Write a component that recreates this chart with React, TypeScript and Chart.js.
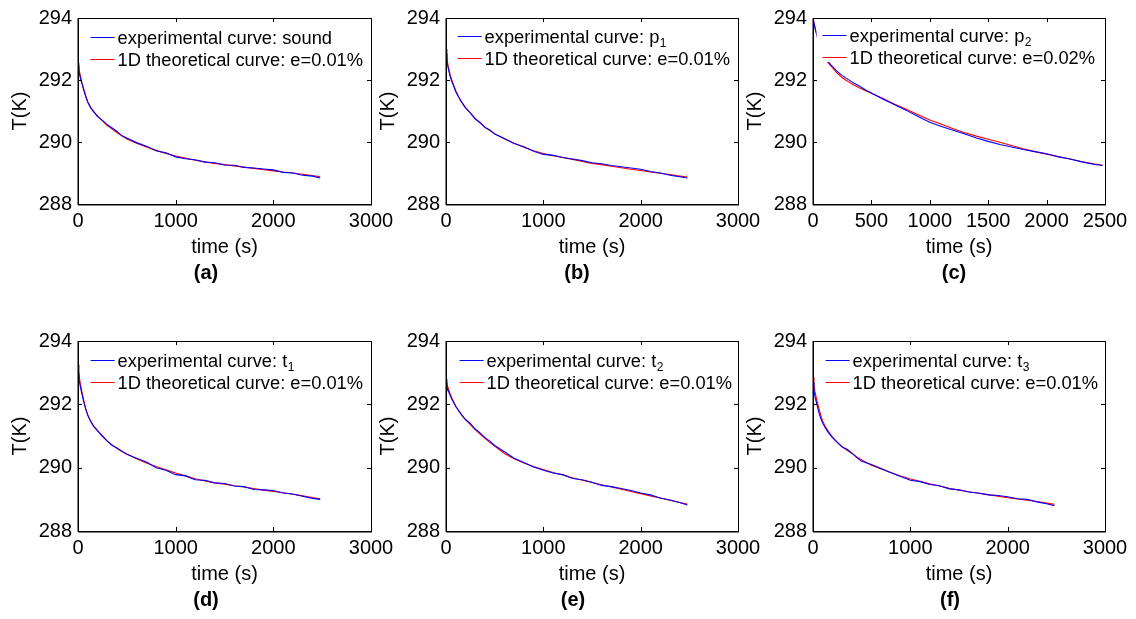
import React, { useEffect, useRef } from "react";
import { Chart, registerables } from "chart.js";

Chart.register(...registerables);

// ---------------- data ----------------
const times = [0, 10, 20, 40, 60, 80, 100, 130, 160, 200, 250, 300, 350, 400, 450, 500, 600, 700, 800, 900, 1000, 1100, 1200, 1300, 1400, 1500, 1600, 1700, 1800, 1900, 2000, 2100, 2200, 2300, 2400, 2480];

const expA = [292.45, 292.28, 292.12, 291.88, 291.66, 291.46, 291.28, 291.1, 290.98, 290.82, 290.7, 290.56, 290.45, 290.34, 290.2, 290.13, 289.98, 289.86, 289.72, 289.65, 289.52, 289.46, 289.43, 289.35, 289.33, 289.26, 289.25, 289.18, 289.16, 289.13, 289.1, 289.02, 289.0, 288.93, 288.9, 288.84];
const theoA = [292.55, 292.35, 292.2, 291.92, 291.7, 291.48, 291.3, 291.12, 290.98, 290.84, 290.68, 290.53, 290.42, 290.3, 290.2, 290.1, 289.96, 289.84, 289.73, 289.63, 289.55, 289.48, 289.41, 289.36, 289.31, 289.27, 289.23, 289.19, 289.15, 289.11, 289.07, 289.03, 289.0, 288.96, 288.92, 288.88];

const expB = [292.85, 292.6, 292.42, 292.14, 291.95, 291.8, 291.62, 291.45, 291.28, 291.1, 290.94, 290.74, 290.63, 290.47, 290.39, 290.26, 290.11, 289.95, 289.85, 289.7, 289.6, 289.57, 289.5, 289.45, 289.4, 289.33, 289.3, 289.24, 289.2, 289.16, 289.12, 289.05, 289.0, 288.93, 288.88, 288.84];
const theoB = [293.0, 292.7, 292.48, 292.2, 292.0, 291.82, 291.66, 291.45, 291.3, 291.12, 290.93, 290.76, 290.61, 290.48, 290.37, 290.27, 290.1, 289.96, 289.83, 289.72, 289.63, 289.56, 289.5, 289.44, 289.37, 289.31, 289.27, 289.22, 289.17, 289.12, 289.08, 289.03, 288.99, 288.95, 288.9, 288.87];

const expC = [294.0, 293.8, 293.63, 293.33, 293.1, 292.9, 292.74, 292.6, 292.46, 292.3, 292.14, 292.02, 291.9, 291.8, 291.68, 291.58, 291.38, 291.2, 291.02, 290.82, 290.64, 290.5, 290.38, 290.26, 290.13, 290.02, 289.92, 289.84, 289.76, 289.69, 289.62, 289.52, 289.45, 289.36, 289.28, 289.24];
const theoC = [294.0, 293.82, 293.65, 293.35, 293.1, 292.9, 292.73, 292.55, 292.42, 292.25, 292.07, 291.95, 291.84, 291.74, 291.65, 291.57, 291.4, 291.22, 291.06, 290.88, 290.71, 290.57, 290.43, 290.3, 290.19, 290.09, 289.99, 289.89, 289.78, 289.69, 289.61, 289.53, 289.45, 289.37, 289.3, 289.25];

const expD = [293.0, 292.8, 292.62, 292.32, 292.06, 291.84, 291.66, 291.47, 291.3, 291.16, 291.0, 290.84, 290.7, 290.62, 290.52, 290.42, 290.3, 290.18, 290.0, 289.92, 289.78, 289.74, 289.62, 289.6, 289.52, 289.5, 289.42, 289.4, 289.31, 289.3, 289.28, 289.2, 289.17, 289.1, 289.03, 289.0];
const theoD = [293.25, 292.95, 292.72, 292.4, 292.12, 291.85, 291.65, 291.45, 291.32, 291.18, 290.99, 290.84, 290.72, 290.6, 290.51, 290.43, 290.28, 290.15, 290.04, 289.93, 289.83, 289.74, 289.65, 289.58, 289.52, 289.48, 289.43, 289.39, 289.34, 289.29, 289.25, 289.21, 289.16, 289.11, 289.06, 289.02];

const expE = [292.7, 292.55, 292.45, 292.3, 292.16, 292.05, 291.93, 291.8, 291.68, 291.52, 291.4, 291.22, 291.1, 290.95, 290.84, 290.7, 290.5, 290.3, 290.16, 290.02, 289.92, 289.83, 289.78, 289.66, 289.62, 289.54, 289.44, 289.4, 289.34, 289.28, 289.2, 289.14, 289.04, 288.98, 288.9, 288.82];
const theoE = [292.8, 292.65, 292.53, 292.35, 292.2, 292.07, 291.95, 291.8, 291.66, 291.52, 291.36, 291.2, 291.06, 290.93, 290.8, 290.68, 290.45, 290.28, 290.15, 290.04, 289.94, 289.85, 289.77, 289.68, 289.6, 289.53, 289.46, 289.39, 289.32, 289.25, 289.18, 289.11, 289.04, 288.97, 288.9, 288.85];

const expF = [292.7, 292.45, 292.25, 292.0, 291.75, 291.55, 291.4, 291.24, 291.1, 290.95, 290.8, 290.65, 290.58, 290.46, 290.32, 290.2, 290.1, 289.97, 289.84, 289.72, 289.6, 289.56, 289.47, 289.43, 289.33, 289.3, 289.23, 289.2, 289.14, 289.12, 289.08, 289.02, 289.0, 288.92, 288.86, 288.8];
const theoF = [292.85, 292.6, 292.4, 292.12, 291.88, 291.66, 291.47, 291.28, 291.14, 290.97, 290.8, 290.66, 290.55, 290.45, 290.34, 290.24, 290.08, 289.96, 289.85, 289.74, 289.64, 289.57, 289.49, 289.42, 289.35, 289.29, 289.24, 289.19, 289.15, 289.1, 289.05, 289.01, 288.97, 288.93, 288.88, 288.84];

const yTickValues = [288, 290, 292, 294];
const xTicks3000 = [0, 1000, 2000, 3000];
const xTicks2500 = [0, 500, 1000, 1500, 2000, 2500];

const expNames = ["sound", "p", "p", "t", "t", "t"];
const expSubs = ["", "1", "2", "1", "2", "3"];
const eValues = ["0.01%", "0.01%", "0.02%", "0.01%", "0.01%", "0.01%"];
const panelLetters = ["(a)", "(b)", "(c)", "(d)", "(e)", "(f)"];
const xTitle = "time (s)";
const yTitle = "T(K)";

const expSeries = [expA, expB, expC, expD, expE, expF];
const theoSeries = [theoA, theoB, theoC, theoD, theoE, theoF];
const xTickSets = [xTicks3000, xTicks3000, xTicks2500, xTicks3000, xTicks3000, xTicks3000];

// ---------------- layout ----------------
const W = 1136;
const H = 619;
const FONT = "'Liberation Sans', Arial, Helvetica, sans-serif";
const Y_AXIS_W = 70;
const X_AXIS_H = 55;
const EXP_COLOR = "#0000ff";
const THEO_COLOR = "#ff0000";

const boxes = [
  { left: 78, right: 371, top: 14, bottom: 204, legendTop: 19, legendRight: 8, letterX: 206 },
  { left: 446, right: 738, top: 14, bottom: 204, legendTop: 18, legendRight: 8, letterX: 577 },
  { left: 813, right: 1105, top: 14, bottom: 204, legendTop: 16.5, legendRight: 10, letterX: 954 },
  { left: 78, right: 371, top: 341, bottom: 531, legendTop: 19, legendRight: 8, letterX: 206 },
  { left: 446, right: 738, top: 341, bottom: 531, legendTop: 19, legendRight: 6, letterX: 573 },
  { left: 813, right: 1105, top: 341, bottom: 531, legendTop: 19, legendRight: 7, letterX: 950 },
];

function makePlugin(i: number) {
  const box = boxes[i];
  return {
    id: "matlabAxes" + i,
    afterDatasetsDraw(chart: any) {
      const ctx: CanvasRenderingContext2D = chart.ctx;
      const ca = chart.chartArea;
      const xs = chart.scales.x;
      const ys = chart.scales.y;
      ctx.save();

      // ---- legend ----
      const mainFont = `18.3px ${FONT}`;
      const subFont = `12px ${FONT}`;
      const row1Main = "experimental curve: " + expNames[i];
      const row1Sub = expSubs[i];
      const row2Main = "1D theoretical curve: e=" + eValues[i];
      ctx.font = mainFont;
      const w1a = ctx.measureText(row1Main).width;
      ctx.font = subFont;
      const w1b = row1Sub ? ctx.measureText(row1Sub).width : 0;
      ctx.font = mainFont;
      const w2 = ctx.measureText(row2Main).width;
      const tw = Math.max(w1a + w1b, w2);
      const textX = ca.right - box.legendRight - tw;
      const lx1 = textX - 3;
      const lx0 = lx1 - 24;
      const y1 = Math.round(ca.top + box.legendTop);
      const y2 = y1 + 22;
      ctx.fillStyle = "#ffffff";
      ctx.fillRect(lx0 - 6, ca.top + 1, ca.right - 1 - (lx0 - 6), y2 + 5 - ca.top - 1);

      ctx.fillStyle = EXP_COLOR;
      ctx.fillRect(lx0, y1, lx1 - lx0, 1);
      ctx.fillStyle = THEO_COLOR;
      ctx.fillRect(lx0, y2, lx1 - lx0, 1);

      ctx.fillStyle = "#000000";
      ctx.textAlign = "left";
      ctx.textBaseline = "alphabetic";
      const base1 = y1 + 7;
      const base2 = y2 + 7;
      ctx.font = mainFont;
      ctx.fillText(row1Main, textX, base1);
      if (row1Sub) {
        ctx.font = subFont;
        ctx.fillText(row1Sub, textX + w1a + 0.5, base1 + 4);
      }
      ctx.font = mainFont;
      ctx.fillText(row2Main, textX, base2);

      // ---- axes box and inward ticks ----
      ctx.fillStyle = "#000000";
      for (const v of xTickSets[i]) {
        const px = Math.round(xs.getPixelForValue(v));
        ctx.fillRect(px, ca.bottom - 4, 1, 4);
        ctx.fillRect(px, ca.top, 1, 4);
      }
      for (const v of yTickValues) {
        const py = Math.round(ys.getPixelForValue(v));
        ctx.fillRect(ca.left, py, 4, 1);
        ctx.fillRect(ca.right - 4, py, 4, 1);
      }
      ctx.fillRect(ca.left, ca.top, ca.right - ca.left + 1, 1);
      ctx.fillRect(ca.right, ca.top, 1, ca.bottom - ca.top + 1);
      ctx.fillRect(ca.left - 0.5, ca.top, 1.5, ca.bottom - ca.top + 1);
      ctx.fillRect(ca.left, ca.bottom, ca.right - ca.left + 1, 1.5);

      // ---- panel letter ----
      ctx.font = `bold 20px ${FONT}`;
      ctx.textAlign = "center";
      ctx.textBaseline = "middle";
      ctx.fillText(panelLetters[i], box.letterX, ca.bottom + 69.5);
      ctx.restore();
    },
  };
}

function buildConfig(i: number): any {
  const box = boxes[i];
  const xt = xTickSets[i];
  const tickFont = { family: FONT, size: 20 };
  return {
    type: "line",
    data: {
      datasets: [
        {
          label: "experimental curve: " + expNames[i] + expSubs[i],
          data: times.map((t, k) => ({ x: t, y: expSeries[i][k] })),
          borderColor: EXP_COLOR,
          borderWidth: 1.1,
          pointRadius: 0,
          tension: 0,
          fill: false,
        },
        {
          label: "1D theoretical curve: e=" + eValues[i],
          data: times.map((t, k) => ({ x: t, y: theoSeries[i][k] })),
          borderColor: THEO_COLOR,
          borderWidth: 1.1,
          pointRadius: 0,
          tension: 0,
          fill: false,
        },
      ],
    },
    options: {
      animation: false,
      responsive: false,
      maintainAspectRatio: false,
      events: [],
      layout: {
        padding: {
          left: box.left - Y_AXIS_W,
          top: box.top,
          right: W - box.right,
          bottom: H - box.bottom - X_AXIS_H,
        },
      },
      plugins: {
        legend: { display: false },
        tooltip: { enabled: false },
        title: { display: false },
      },
      scales: {
        x: {
          type: "linear",
          min: xt[0],
          max: xt[xt.length - 1],
          afterBuildTicks: (s: any) => {
            s.ticks = xt.map((v) => ({ value: v }));
          },
          afterFit: (s: any) => {
            s.height = X_AXIS_H;
          },
          grid: { display: false, drawTicks: false },
          border: { display: false },
          ticks: {
            color: "#000",
            font: tickFont,
            padding: 5,
            maxRotation: 0,
            autoSkip: false,
            callback: (v: any) => String(v),
          },
          title: {
            display: true,
            text: xTitle,
            color: "#000",
            font: tickFont,
            padding: 0,
          },
        },
        y: {
          type: "linear",
          min: yTickValues[0],
          max: yTickValues[yTickValues.length - 1],
          afterBuildTicks: (s: any) => {
            s.ticks = yTickValues.map((v) => ({ value: v }));
          },
          afterFit: (s: any) => {
            s.width = Y_AXIS_W;
          },
          grid: { display: false, drawTicks: false },
          border: { display: false },
          ticks: {
            color: "#000",
            font: tickFont,
            padding: 6,
            autoSkip: false,
            callback: (v: any) => String(v),
          },
          title: {
            display: true,
            text: yTitle,
            color: "#000",
            font: tickFont,
            padding: 0,
          },
        },
      },
    },
    plugins: [makePlugin(i)],
  };
}

function Panel({ index }: { index: number }) {
  const ref = useRef<HTMLCanvasElement | null>(null);
  useEffect(() => {
    if (!ref.current) return;
    const chart = new Chart(ref.current, buildConfig(index));
    return () => chart.destroy();
  }, [index]);
  return (
    <canvas
      ref={ref}
      width={W}
      height={H}
      style={{ position: "absolute", left: 0, top: 0, width: W, height: H }}
    />
  );
}

export default function App() {
  return (
    <div
      style={{
        position: "absolute",
        left: 0,
        top: 0,
        width: W,
        height: H,
        background: "#ffffff",
        overflow: "hidden",
      }}
    >
      {boxes.map((_, i) => (
        <Panel key={i} index={i} />
      ))}
    </div>
  );
}
